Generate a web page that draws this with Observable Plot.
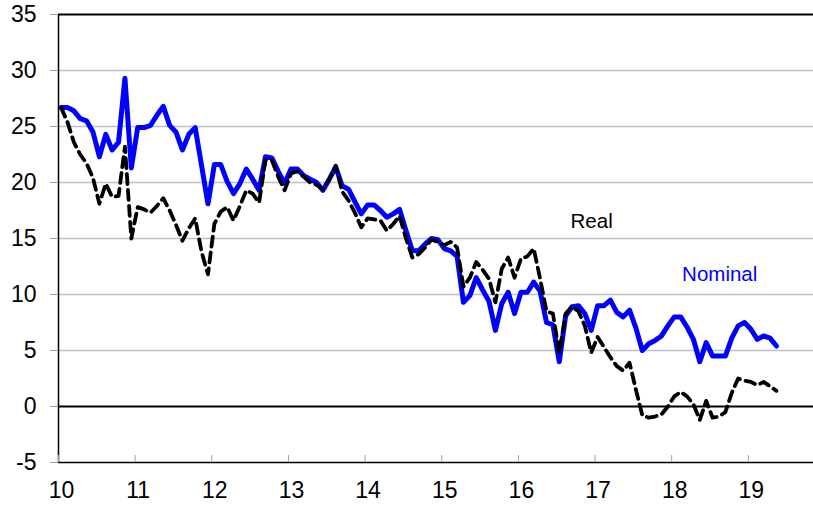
<!DOCTYPE html>
<html>
<head>
<meta charset="utf-8">
<script src="https://cdn.jsdelivr.net/npm/d3@7"></script>
<script src="https://cdn.jsdelivr.net/npm/@observablehq/plot@0.6"></script>
<style>
  html, body { margin: 0; padding: 0; background: #fff; }
  #chart { width: 813px; height: 505px; overflow: hidden; }
</style>
</head>
<body>
<div id="chart"></div>
<script>
// Monthly observations, Jan 2010 .. May 2019 (x axis: two-digit year)
const startYear = 10;
const nominal = [
  26.7, 26.7, 26.4, 25.7, 25.5, 24.5, 22.3, 24.3, 22.9, 23.6, 29.3, 21.3,
  24.9, 24.9, 25.1, 26.0, 26.8, 25.1, 24.5, 22.9, 24.3, 24.9, 21.5, 18.1,
  21.6, 21.6, 20.1, 19.0, 19.9, 21.2, 20.3, 19.3, 22.3, 22.2, 21.0, 19.9,
  21.2, 21.2, 20.6, 20.3, 20.0, 19.3, 20.3, 21.4, 19.7, 19.4, 18.3, 17.2,
  18.0, 18.0, 17.5, 16.9, 17.2, 17.6, 15.7, 13.9, 13.9, 14.5, 15.0, 14.9,
  14.1, 13.9, 13.4, 9.3, 9.9, 11.5, 10.4, 9.4, 6.8, 9.2, 10.2, 8.3,
  10.2, 10.2, 11.1, 10.3, 7.5, 7.3, 4.0, 8.1, 8.9, 9.0, 8.3, 6.8,
  9.0, 9.0, 9.5, 8.4, 8.0, 8.6, 7.0, 5.0, 5.6, 5.9, 6.3, 7.2,
  8.0, 8.0, 7.1, 6.0, 4.0, 5.7, 4.5, 4.5, 4.5, 6.1, 7.2, 7.5,
  6.9, 6.0, 6.3, 6.1, 5.4
];
const real = [
  26.7, 25.4, 23.6, 22.5, 21.7, 20.4, 18.1, 19.9, 18.7, 18.8, 23.2, 15.0,
  17.8, 17.6, 17.3, 17.9, 18.6, 17.5, 16.2, 14.8, 15.9, 16.8, 13.8, 11.8,
  16.3, 17.4, 17.8, 16.6, 17.9, 19.3, 19.0, 18.2, 22.0, 22.0, 20.5, 19.3,
  20.8, 21.0, 20.5, 20.0, 19.8, 19.4, 20.3, 21.5, 19.2, 18.4, 17.3, 16.0,
  16.8, 16.7, 16.6, 15.7, 16.3, 17.0, 15.0, 13.3, 13.6, 14.2, 14.9, 14.7,
  14.4, 14.7, 14.2, 10.7, 11.5, 12.9, 12.2, 11.4, 9.3, 12.3, 13.3, 11.5,
  13.2, 13.4, 14.1, 11.4, 8.5, 8.3, 4.8, 8.3, 8.9, 8.5, 7.2, 4.8,
  6.2, 5.3, 4.4, 3.6, 3.2, 3.9, 1.5, -0.8, -1.0, -0.9, -0.7, 0.0,
  0.9, 1.3, 0.9, 0.2, -1.2, 0.5, -1.0, -0.9, -0.5, 1.2, 2.5, 2.3,
  2.2, 1.9, 2.2, 1.8, 1.4
];
const xTicks = [10, 11, 12, 13, 14, 15, 16, 17, 18, 19];
const yTicks = [-5, 0, 5, 10, 15, 20, 25, 30, 35];
const gridValues = [5, 10, 15, 20, 25, 30];
const seriesLabels = ["Real", "Nominal"];

// month i plotted within its year
const monthPos = i => startYear + (i + 0.4) / 12;
const nominalRows = nominal.map((v, i) => ({t: monthPos(i), v}));
const realRows = real.map((v, i) => ({t: monthPos(i), v}));

const plot = Plot.plot({
  width: 813,
  height: 505,
  marginLeft: 58,
  marginRight: 0,
  marginTop: 14,
  marginBottom: 43,
  style: {fontFamily: "'Liberation Sans', Arial, sans-serif", background: "#fff", color: "#000"},
  x: {domain: [10, 19.85]},
  y: {domain: [-5, 35]},
  marks: [
    Plot.ruleY(gridValues, {stroke: "#bcc0d0", strokeWidth: 1.6}),
    Plot.ruleY([0], {stroke: "#000", strokeWidth: 2}),
    Plot.ruleY([35], {stroke: "#000", strokeWidth: 2}),
    Plot.ruleY([-5], {stroke: "#000", strokeWidth: 1.5}),
    Plot.ruleX([10], {stroke: "#000", strokeWidth: 1.5}),
    Plot.tickX(xTicks, {x: d => d, insetTop: 441, stroke: "#a0a0a0", strokeWidth: 1}),
    Plot.axisY({ticks: yTicks, tickSize: 8, tickPadding: 14, stroke: "#a0a0a0", fill: "#000", fontSize: 23, label: null, tickFormat: d => String(d)}),
    Plot.axisX({ticks: xTicks, tickSize: 0, tickPadding: 19, fill: "#000", fontSize: 23, dx: 3, label: null, tickFormat: d => String(d)}),
    Plot.line(nominalRows, {x: "t", y: "v", stroke: "#0000ff", strokeWidth: 5, strokeLinejoin: "round", strokeLinecap: "round"}),
    Plot.line(realRows, {x: "t", y: "v", stroke: "#000", strokeWidth: 3.8, strokeDasharray: "10,6", strokeLinejoin: "round"}),
    Plot.text([seriesLabels[0]], {x: 16.68, y: 15.96, text: d => d, textAnchor: "start", lineAnchor: "bottom", fontSize: 20.5, fill: "#000"}),
    Plot.text([seriesLabels[1]], {x: 18.136, y: 11.19, text: d => d, textAnchor: "start", lineAnchor: "bottom", fontSize: 20.5, fill: "#0000ff"})
  ]
});
document.getElementById("chart").appendChild(plot);
</script>
</body>
</html>
